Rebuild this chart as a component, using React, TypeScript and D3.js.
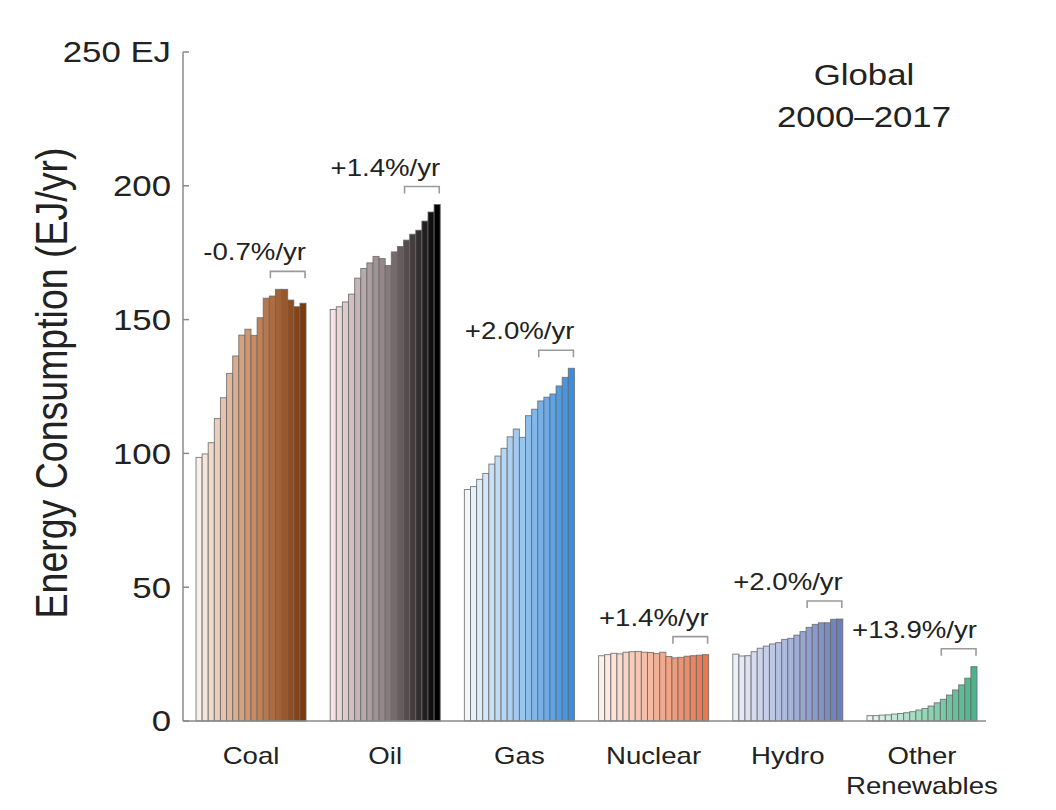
import React from "react";
import * as d3 from "d3";

const categories = ["Coal", "Oil", "Gas", "Nuclear", "Hydro", "Other Renewables"];
const years = [2000, 2001, 2002, 2003, 2004, 2005, 2006, 2007, 2008, 2009, 2010, 2011, 2012, 2013, 2014, 2015, 2016, 2017];

const coal = [98.5, 99.8, 104, 113, 120.8, 129.9, 136.4, 144.2, 146.4, 144.1, 150.7, 158, 158.8, 161.3, 161.3, 157.3, 154.8, 156.1];
const oil = [153.8, 154.8, 156.6, 159.5, 165.5, 169.1, 171.2, 173.6, 172.8, 170.2, 175.3, 177.3, 179.7, 181.9, 183.4, 186.8, 190.2, 193.0];
const gas = [86.5, 87.6, 90.3, 92.5, 96, 99, 101.9, 106.2, 109.1, 106, 114.1, 116.5, 119.6, 121, 122.2, 125.2, 128.4, 131.8];
const nuclear = [24.4, 24.8, 25.3, 25.1, 25.7, 25.9, 26.0, 25.7, 25.6, 25.2, 25.7, 24.1, 23.6, 23.8, 24.2, 24.4, 24.6, 24.8];
const hydro = [25.0, 24.3, 24.4, 25.9, 27.2, 28.0, 28.8, 29.3, 30.5, 30.9, 32.1, 33.4, 35.0, 36.1, 36.7, 36.7, 38.0, 38.1];
const other = [2.0, 2.0, 2.2, 2.3, 2.6, 2.8, 3.1, 3.5, 4.1, 4.7, 5.6, 6.8, 8.1, 9.7, 11.6, 13.5, 16.0, 20.3];

const rates = ["-0.7%/yr", "+1.4%/yr", "+2.0%/yr", "+1.4%/yr", "+2.0%/yr", "+13.9%/yr"];
const yTicks = [0, 50, 100, 150, 200, 250];
const yTickLabels = ["0", "50", "100", "150", "200", "250 EJ"];
const bracketYears = [2012, 2017];

const series = [coal, oil, gas, nuclear, hydro, other];
const colorStart = ["#f8f0ea", "#f5e2e2", "#f1f7fc", "#fdf1ec", "#eef0f8", "#e8f7ef"];
const colorEnd = ["#7a3a0e", "#000000", "#3b8fdf", "#e8774d", "#6c7fba", "#4cb48a"];
const colorMid = ["#cf9068", "#8e8284", "#9ec8ee", "#f3b59c", "#aab6dc", "#99d8bb"];

const W = 1056;
const H = 810;
const SX = 1.2;
const FONT = "'Liberation Sans', Arial, Helvetica, sans-serif";

export default function App() {
  const y = d3.scaleLinear().domain([0, 250]).range([721, 52]);
  const xg = d3.scaleBand<string>().domain(categories).range([196, 977]).paddingInner(0.18).paddingOuter(0);
  const xi = d3.scaleBand<number>().domain(years).range([0, xg.bandwidth()]).padding(0);
  const axisX = 183;

  return (
    <svg width={W} height={H} style={{ position: "absolute", left: 0, top: 0, background: "#fff" }} fontFamily={FONT}>
      {categories.map((c, ci) => {
        const vals = series[ci];
        const interp = d3.piecewise(d3.interpolateRgb, [colorStart[ci], colorMid[ci], colorEnd[ci]]);
        return (
          <g key={c} transform={`translate(${xg(c)},0)`}>
            {years.map((yr, i) => (
              <rect
                key={yr}
                x={xi(yr)!}
                y={y(vals[i])}
                width={xi.bandwidth()}
                height={y(0) - y(vals[i])}
                fill={interp(i / (years.length - 1))}
                stroke="#666"
                strokeOpacity={0.8}
                strokeWidth={1}
              />
            ))}
          </g>
        );
      })}

      {categories.map((c, ci) => {
        const vals = series[ci];
        const i0 = years.indexOf(bracketYears[0]);
        const i1 = years.indexOf(bracketYears[1]);
        const mx = d3.max(vals.slice(i0, i1 + 1))!;
        const top = y(mx) - 18;
        const x0 = xg(c)! + xi(bracketYears[0])! + 1;
        const x1 = xg(c)! + xi(bracketYears[1])! + xi.bandwidth() - 1;
        return (
          <g key={c + "b"}>
            <path d={`M${x0},${top + 7}V${top}H${x1}V${top + 7}`} fill="none" stroke="#9a9a9a" strokeWidth={1.6} />
            <g transform={`translate(${x1 + 1},${top - 11}) scale(${SX},1)`}>
              <text textAnchor="end" fontSize={23} fill="#222">{rates[ci]}</text>
            </g>
          </g>
        );
      })}

      <line x1={axisX} x2={axisX} y1={y(250)} y2={y(0)} stroke="#8a8a8a" strokeWidth={1.5} />
      <line x1={axisX} x2={986} y1={y(0)} y2={y(0)} stroke="#8a8a8a" strokeWidth={1.5} />
      {yTicks.map((t, i) => (
        <g key={t}>
          <line x1={axisX} x2={axisX + 6} y1={y(t)} y2={y(t)} stroke="#8a8a8a" strokeWidth={1.5} />
          <g transform={`translate(171,${y(t)}) scale(${SX},1)`}>
            <text textAnchor="end" dy="0.36em" fontSize={29} fill="#222">{yTickLabels[i]}</text>
          </g>
        </g>
      ))}

      <g transform={`translate(51,383) scale(${SX},1) rotate(-90)`}>
        <text textAnchor="middle" dy="0.36em" fontSize={37.5} fill="#222">Energy Consumption (EJ/yr)</text>
      </g>

      {categories.map((c) => {
        const cx = xg(c)! + xg.bandwidth() / 2;
        const parts = c === "Other Renewables" ? ["Other", "Renewables"] : [c];
        return (
          <g key={c + "l"} transform={`translate(${cx},0) scale(${SX},1)`}>
            {parts.map((p, k) => (
              <text key={p} x={0} y={764 + k * 30} textAnchor="middle" fontSize={23} fill="#222">{p}</text>
            ))}
          </g>
        );
      })}

      <g transform={`translate(864,0) scale(${SX},1)`}>
        <text x={0} y={85} textAnchor="middle" fontSize={29} fill="#222">Global</text>
        <text x={0} y={127} textAnchor="middle" fontSize={29} fill="#222">2000–2017</text>
      </g>
    </svg>
  );
}
